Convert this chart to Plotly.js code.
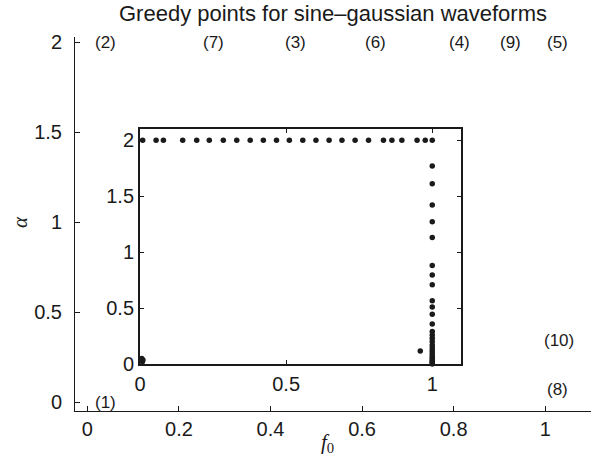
<!DOCTYPE html>
<html>
<head>
<meta charset="utf-8">
<script src="https://cdn.plot.ly/plotly-3.0.1.min.js"></script>
<style>
  html, body { margin: 0; padding: 0; background: #fff; }
  #chart { width: 598px; height: 468px; }
</style>
</head>
<body>
<div id="chart"></div>
<script>
// Greedy points selected along the top edge (alpha = 2)
const topRowF0 = [0.009, 0.055, 0.080, 0.146, 0.194, 0.237, 0.285, 0.331, 0.377, 0.422,
                  0.467, 0.511, 0.557, 0.602, 0.647, 0.691, 0.736, 0.782, 0.833, 0.862,
                  0.896, 0.948, 0.976, 1.0];
const topRowAlpha = topRowF0.map(() => 2);

// Greedy points selected along f0 = 1
const columnAlpha = [1.77, 1.61, 1.42, 1.27, 1.13, 0.88, 0.795, 0.707, 0.565, 0.51,
                     0.444, 0.357, 0.29, 0.26, 0.23, 0.2, 0.17, 0.145, 0.12, 0.1,
                     0.08, 0.06, 0.045, 0.03, 0.02, 0.01, 0.0];
const columnF0 = columnAlpha.map(() => 1);

// Remaining isolated greedy points
const otherF0 = [0.959, 0.008, 0.010, 0.006];
const otherAlpha = [0.116, 0.02, 0.035, 0.05];

// Numbered labels of the first ten greedy points
const labelText = ['(1)', '(2)', '(3)', '(4)', '(5)', '(6)', '(7)', '(8)', '(9)', '(10)'];
const labelF0 = [0.012, 0.012, 0.427, 0.785, 1.0, 0.602, 0.248, 1.0, 0.896, 0.992];
const labelAlpha = [0.0, 2.0, 2.0, 2.0, 2.0, 2.0, 2.0, 0.067, 2.0, 0.344];

// Tick values
const outerXTicks = [0, 0.2, 0.4, 0.6, 0.8, 1];
const outerXTickText = ['0', '0.2', '0.4', '0.6', '0.8', '1'];
const outerYTicks = [0, 0.5, 1, 1.5, 2];
const outerYTickText = ['0', '0.5', '1', '1.5', '2'];
const insetXTicks = [0, 0.5, 1];
const insetXTickText = ['0', '0.5', '1'];
const insetYTicks = [0, 0.5, 1, 1.5, 2];
const insetYTickText = ['0', '0.5', '1', '1.5', '2'];

const INK = '#1a1a1a';
const SANS = 'Liberation Sans, Arial, sans-serif';
const SERIF = 'Liberation Serif, DejaVu Serif, serif';

const allF0 = topRowF0.concat(columnF0, otherF0);
const allAlpha = topRowAlpha.concat(columnAlpha, otherAlpha);

const traces = [{
  type: 'scatter',
  mode: 'markers',
  x: allF0,
  y: allAlpha,
  xaxis: 'x2',
  yaxis: 'y2',
  cliponaxis: false,
  marker: { color: INK, size: 5.5, line: { width: 0 } },
  hoverinfo: 'x+y'
}];

const annotations = labelText.map((t, i) => ({
  text: t, x: labelF0[i], y: labelAlpha[i], xref: 'x', yref: 'y',
  xanchor: 'left', yanchor: 'middle', showarrow: false,
  font: { family: SANS, size: 17, color: INK }
}));

// Axis titles
annotations.push({
  text: '<i>α</i>', xref: 'paper', yref: 'paper', x: -0.107, y: 0.505,
  xanchor: 'center', yanchor: 'middle', showarrow: false, textangle: -90,
  font: { family: SERIF, size: 21, color: INK }
});
annotations.push({
  text: '<i>f</i><sub>0</sub>', xref: 'paper', yref: 'paper', x: 0.49, y: -0.085,
  xanchor: 'center', yanchor: 'middle', showarrow: false,
  font: { family: SERIF, size: 21, color: INK }
});

const outerAxis = {
  ticks: 'inside', ticklen: 5, tickwidth: 1, tickcolor: INK,
  showline: true, linecolor: INK, linewidth: 1,
  showgrid: false, zeroline: false, fixedrange: true,
  tickfont: { family: SANS, size: 20, color: INK }
};
const insetAxis = {
  ticks: 'inside', ticklen: 4, tickwidth: 1, tickcolor: INK,
  showline: true, linecolor: INK, linewidth: 2, mirror: 'allticks',
  showgrid: false, zeroline: false, fixedrange: true,
  tickfont: { family: SANS, size: 20, color: INK }
};

const layout = {
  width: 598, height: 468,
  margin: { l: 75, r: 7, t: 37, b: 57, pad: 0 },
  paper_bgcolor: '#fff', plot_bgcolor: '#fff',
  showlegend: false,
  title: {
    text: 'Greedy points for sine–gaussian waveforms',
    font: { family: SANS, size: 22, color: INK },
    x: 0.5, xref: 'paper', xanchor: 'center',
    y: 0.972, yref: 'container', yanchor: 'middle'
  },
  xaxis: Object.assign({}, outerAxis, {
    domain: [0, 1], anchor: 'y', range: [-0.027, 1.1],
    tickvals: outerXTicks, ticktext: outerXTickText, ticklabelstandoff: 0
  }),
  yaxis: Object.assign({}, outerAxis, {
    domain: [0, 1], anchor: 'x', range: [-0.05, 2.03],
    tickvals: outerYTicks, ticktext: outerYTickText, ticklabelstandoff: 8
  }),
  xaxis2: Object.assign({}, insetAxis, {
    domain: [0.126, 0.749], anchor: 'y2', range: [0, 1.1],
    tickvals: insetXTicks, ticktext: insetXTickText, ticklabelstandoff: 1
  }),
  yaxis2: Object.assign({}, insetAxis, {
    domain: [0.1257, 0.754], anchor: 'x2', range: [0, 2.1],
    tickvals: insetYTicks, ticktext: insetYTickText, ticklabelstandoff: 0
  }),
  annotations: annotations
};

Plotly.newPlot('chart', traces, layout, { displayModeBar: false, staticPlot: true });
</script>
</body>
</html>
